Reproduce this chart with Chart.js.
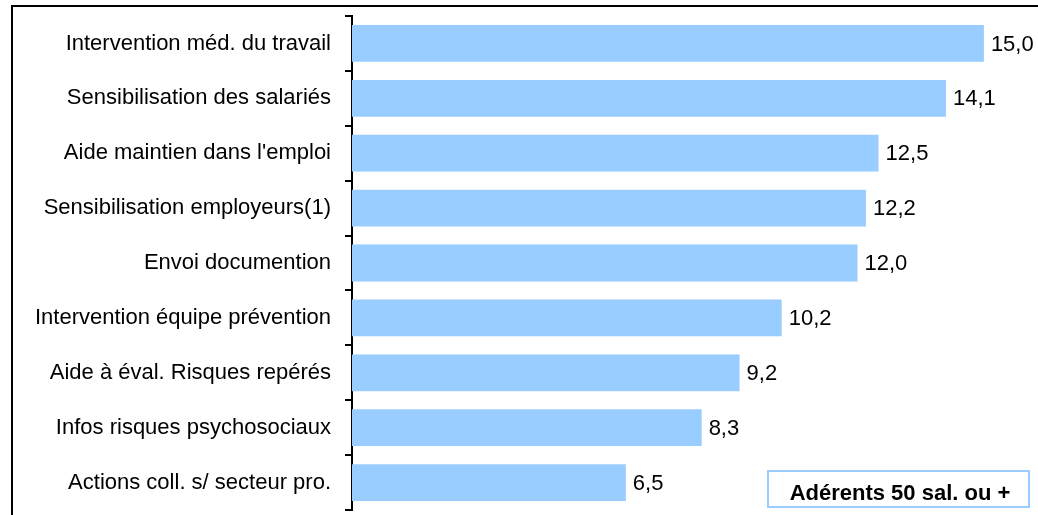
<!DOCTYPE html>
<html lang="fr">
<head>
<meta charset="utf-8">
<title>Actions - adhérents 50 sal. ou +</title>
<script src="https://cdn.jsdelivr.net/npm/chart.js@4/dist/chart.umd.min.js"></script>
<style>
  html, body { margin: 0; padding: 0; background: #fff; overflow: hidden; }
  #wrap { position: relative; width: 1038px; height: 515px; }
  /* black frame, runs off the right and bottom edges */
  #frame {
    position: absolute; left: 11px; top: 5px; width: 2000px; height: 2000px;
    border-left: 2px solid #000; border-top: 2px solid #000;
  }
  #chart { position: absolute; left: 0; top: 0; }
</style>
</head>
<body>
<div id="wrap">
  <div id="frame"></div>
  <canvas id="chart" width="1038" height="515"></canvas>
</div>
<script>
// Data
const categories = [
  'Intervention méd. du travail',
  'Sensibilisation des salariés',
  "Aide maintien dans l'emploi",
  'Sensibilisation employeurs(1)',
  'Envoi documention',
  'Intervention équipe prévention',
  'Aide à éval. Risques repérés',
  'Infos risques psychosociaux',
  'Actions coll. s/ secteur pro.',
];
const values = [15.0, 14.1, 12.5, 12.2, 12.0, 10.2, 9.2, 8.3, 6.5];
const boxLabel = 'Adérents 50 sal. ou +';

const FONT = '"Liberation Sans", Arial, sans-serif';

// value at the end of each bar, French decimal comma
const valueLabels = {
  id: 'valueLabels',
  afterDatasetsDraw(chart) {
    const ctx = chart.ctx;
    const meta = chart.getDatasetMeta(0);
    ctx.save();
    ctx.font = '22px ' + FONT;
    ctx.fillStyle = '#000';
    ctx.textAlign = 'left';
    ctx.textBaseline = 'middle';
    meta.data.forEach((bar, i) => {
      ctx.fillText(values[i].toFixed(1).replace('.', ','), bar.x + 7, bar.y + 1);
    });
    ctx.restore();
  },
};

// framed text box in the bottom right corner
const cornerBox = {
  id: 'cornerBox',
  afterDraw(chart) {
    const ctx = chart.ctx;
    ctx.save();
    ctx.fillStyle = '#fff';
    ctx.fillRect(767, 470, 263, 38);
    ctx.strokeStyle = '#99ccff';
    ctx.lineWidth = 2;
    ctx.strokeRect(768, 471, 261, 36);
    ctx.font = 'bold 22px ' + FONT;
    ctx.fillStyle = '#000';
    ctx.textAlign = 'center';
    ctx.textBaseline = 'middle';
    ctx.fillText(boxLabel, 900, 494);
    ctx.restore();
  },
};

new Chart(document.getElementById('chart'), {
  type: 'bar',
  data: {
    labels: categories,
    datasets: [{
      data: values,
      backgroundColor: '#99ccff',
      borderWidth: 0,
      barPercentage: 0.67,
      categoryPercentage: 1,
    }],
  },
  options: {
    indexAxis: 'y',
    responsive: false,
    animation: false,
    layout: { padding: { top: 16, bottom: 5, left: 0, right: 12 } },
    plugins: {
      legend: { display: false },
      tooltip: { enabled: false },
    },
    scales: {
      x: {
        display: false,
        min: 0,
        max: 16,
      },
      y: {
        afterFit: (scale) => {
          scale.width = 352;
          // labels sit between the ticks, no extra room needed above/below
          scale.paddingTop = 0;
          scale.paddingBottom = 0;
        },
        grid: {
          offset: true,
          drawOnChartArea: false,
          drawTicks: true,
          tickLength: 7,
          color: '#000',
          lineWidth: 2,
        },
        border: { display: true, color: '#000', width: 2 },
        ticks: {
          font: { family: FONT, size: 22 },
          color: '#000',
          padding: 14,
          autoSkip: false,
        },
      },
    },
  },
  plugins: [valueLabels, cornerBox],
});
</script>
</body>
</html>
